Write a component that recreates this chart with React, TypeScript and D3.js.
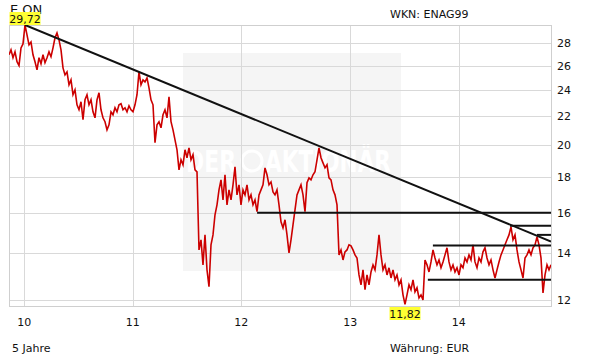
import React from "react";
import * as d3 from "d3";

const W = 611;
const H = 364;

const title = "E.ON";
const wknText = "WKN: ENAG99";
const periodText = "5 Jahre";
const currencyText = "Währung: EUR";

const startDate = new Date(2009, 10, 11);
const endDate = new Date(2014, 10, 7);

// closing prices (EUR), evenly spaced in time
const prices = [
  26.94, 27.38, 26.68, 27.2, 26.33, 26.0, 27.56, 27.92, 29.72, 28.77,
  27.84, 28.1, 26.94, 26.33, 25.63, 26.68, 26.16, 26.94, 26.25, 26.68,
  27.2, 26.77, 27.56, 28.49, 28.96, 28.3, 27.38, 25.8, 25.21, 25.46,
  24.4, 24.8, 23.61, 24.0, 22.84, 22.47, 23.07, 21.74, 23.22, 23.61,
  22.84, 23.22, 22.32, 21.88, 23.22, 23.76, 22.47, 21.88, 21.6, 21.03,
  21.38, 22.32, 22.1, 22.62, 22.32, 22.84, 22.92, 22.47, 22.62, 22.32,
  22.77, 22.47, 22.32, 22.84, 23.61, 25.46, 24.4, 24.8, 24.64, 24.96,
  24.16, 23.22, 22.84, 20.15, 21.38, 21.6, 21.17, 22.1, 22.47, 21.88,
  23.45, 21.6, 21.03, 20.35, 19.69, 18.43, 19.05, 18.74, 19.69, 19.18,
  19.82, 19.05, 19.37, 18.43, 18.31, 14.15, 14.63, 13.47, 14.87, 13.25,
  12.53, 14.39, 14.87, 15.89, 16.42, 17.25, 17.83, 16.69, 18.13, 16.42,
  17.25, 16.69, 17.54, 18.62, 16.97, 17.54, 16.42, 17.25, 16.97, 17.54,
  16.69, 16.97, 16.42, 16.69, 16.05, 16.97, 17.25, 17.54, 18.55, 18.13,
  17.54, 17.71, 17.14, 16.97, 17.25, 16.42, 15.53, 15.22, 15.63, 14.87,
  14.01, 14.63, 15.37, 16.15, 16.97, 17.25, 17.54, 16.97, 16.05, 17.66,
  17.95, 17.83, 18.13, 18.31, 19.05, 19.82, 19.18, 18.86, 18.55, 18.74,
  17.95, 17.83, 17.25, 16.97, 16.42, 13.92, 14.15, 13.69, 14.06, 14.15,
  14.39, 14.34, 14.15, 13.92, 13.78, 13.03, 12.61, 13.25, 12.41, 13.03,
  12.61, 13.16, 13.47, 13.25, 13.92, 14.87, 13.92, 13.25, 13.47, 13.03,
  13.34, 12.9, 13.25, 12.82, 13.03, 12.61, 12.82, 12.2, 11.82, 12.2,
  12.61, 12.41, 12.82, 12.32, 12.49, 12.08, 12.2, 12.0, 13.69, 13.47,
  13.16, 13.6, 14.15, 13.78, 13.47, 13.69, 13.34, 13.6, 13.92, 14.25,
  13.6, 13.25, 13.47, 13.16, 13.34, 13.03, 13.47, 13.34, 13.78, 13.6,
  13.92, 13.69, 14.39, 13.6, 13.34, 13.78, 13.6, 14.06, 14.25, 13.78,
  13.47, 13.69, 13.25, 12.9, 13.25, 13.6, 13.92, 14.15, 14.39, 14.63,
  14.87, 15.27, 14.63, 14.87, 14.15, 13.6, 13.25, 12.9, 13.78, 13.92,
  14.15, 13.92, 14.25, 14.39, 14.77, 14.39, 13.78, 12.28, 13.03, 13.47,
  13.25, 13.47,
];

const yTicks = [12, 14, 16, 18, 20, 22, 24, 26, 28];
const xTickYears = [2010, 2011, 2012, 2013, 2014];
const xTickLabels = ["10", "11", "12", "13", "14"];

const trendStart = { date: new Date(2010, 0, 4), value: 29.72 };
const trendEnd = { date: endDate, value: 14.55 };

const levelStarts = [
  new Date(2012, 1, 23),
  new Date(2014, 5, 22),
  new Date(2014, 8, 21),
  new Date(2013, 9, 6),
  new Date(2013, 8, 19),
];
const levelValues = [16.0, 15.33, 14.87, 14.36, 12.82];

const fmt = (v: number) => v.toFixed(2).replace(".", ",");

export default function App() {
  const left = 9;
  const right = 551;
  const top = 25;
  const bottom = 306;

  const n = prices.length;
  const span = endDate.getTime() - startDate.getTime();
  const series = prices.map((v, i) => ({
    date: new Date(startDate.getTime() + (span * i) / (n - 1)),
    value: v,
  }));

  const x = d3.scaleTime().domain([startDate, endDate]).range([left, right]);
  const y = d3.scaleLog().domain([11.76, 29.72]).range([bottom, top]);

  const line = d3
    .line<{ date: Date; value: number }>()
    .x((d) => x(d.date))
    .y((d) => y(d.value));

  const maxIdx = d3.maxIndex(series, (d) => d.value);
  const minIdx = d3.minIndex(series, (d) => d.value);
  const maxP = series[maxIdx];
  const minP = series[minIdx];

  const font = "DejaVu Sans, Verdana, sans-serif";

  return (
    <svg
      width={W}
      height={H}
      style={{ position: "absolute", left: 0, top: 0, background: "#fff" }}
      fontFamily={font}
    >
      <defs>
        <clipPath id="plot">
          <rect x={left} y={top} width={right - left} height={bottom - top} />
        </clipPath>
      </defs>
      <rect width={W} height={H} fill="#fff" />

      {/* watermark */}
      <rect x={183} y={53} width={218} height={218} fill="#f5f5f5" />
      <g fill="#ffffff" fontWeight="bold" fontSize={30}>
        <text x={236} y={172} textAnchor="end" textLength={50} lengthAdjust="spacingAndGlyphs">
          DER
        </text>
        <circle cx={252} cy={161} r={10} fill="none" stroke="#ffffff" strokeWidth={3} />
        <text x={265} y={172} textLength={126} lengthAdjust="spacingAndGlyphs">
          AKTIONÄR
        </text>
      </g>

      {/* grid */}
      <g stroke="#d9d9d9" strokeWidth={1}>
        {yTicks.map((t) => (
          <line key={t} x1={left} x2={right} y1={Math.round(y(t)) + 0.5} y2={Math.round(y(t)) + 0.5} />
        ))}
        {xTickYears.map((yr) => {
          const xx = Math.round(x(new Date(yr, 0, 1))) + 0.5;
          return <line key={yr} x1={xx} x2={xx} y1={top} y2={bottom} />;
        })}
      </g>
      <rect
        x={left + 0.5}
        y={top + 0.5}
        width={right - left}
        height={bottom - top}
        fill="none"
        stroke="#cfcfcf"
      />

      {/* price */}
      <g clipPath="url(#plot)">
        <path d={line(series) || ""} fill="none" stroke="#cc0000" strokeWidth={1.6} strokeLinejoin="miter" />
        {/* trend & levels */}
        <line
          x1={x(trendStart.date)}
          y1={y(trendStart.value)}
          x2={x(trendEnd.date)}
          y2={y(trendEnd.value)}
          stroke="#111"
          strokeWidth={2}
        />
        {levelValues.map((v, i) => (
          <line
            key={i}
            x1={x(levelStarts[i])}
            x2={right}
            y1={y(v)}
            y2={y(v)}
            stroke="#111"
            strokeWidth={2}
          />
        ))}
      </g>

      {/* axis labels */}
      <g fontSize={11} fill="#111">
        {yTicks.map((t) => (
          <text key={t} x={557} y={y(t) + 4}>
            {t}
          </text>
        ))}
        {xTickYears.map((yr, i) => (
          <text key={yr} x={x(new Date(yr, 0, 1))} y={326} textAnchor="middle">
            {xTickLabels[i]}
          </text>
        ))}
      </g>

      {/* header / footer */}
      <text x={10} y={14} fontSize={13} fill="#111">
        {title}
      </text>
      <text x={390} y={18} fontSize={11} fill="#111">
        {wknText}
      </text>
      <text x={12} y={352} fontSize={11} fill="#111">
        {periodText}
      </text>
      <text x={390} y={352} fontSize={11} fill="#111">
        {currencyText}
      </text>

      {/* extreme labels */}
      <g fontSize={11}>
        <rect x={x(maxP.date) - 15.5} y={12} width={31} height={13} fill="#ffff33" />
        <text x={x(maxP.date)} y={22.5} textAnchor="middle" fill="#111">
          {fmt(maxP.value)}
        </text>
        <rect x={x(minP.date) - 15.5} y={307} width={31} height={13} fill="#ffff33" />
        <text x={x(minP.date)} y={317.5} textAnchor="middle" fill="#111">
          {fmt(minP.value)}
        </text>
      </g>
    </svg>
  );
}
